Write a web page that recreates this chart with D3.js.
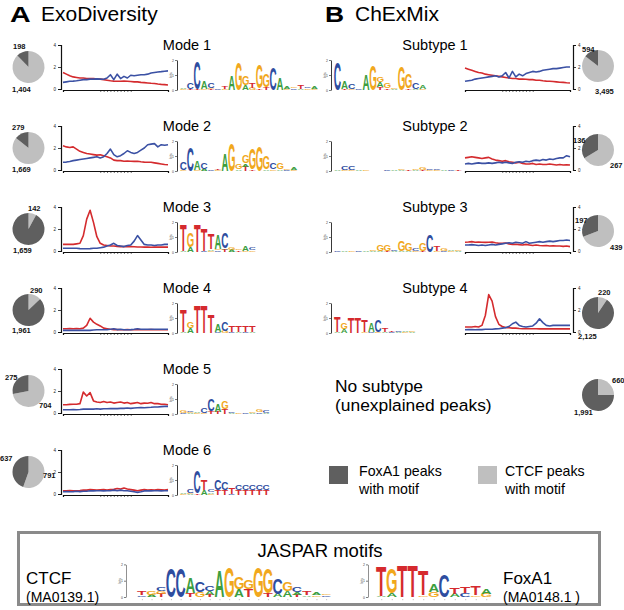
<!DOCTYPE html>
<html><head><meta charset="utf-8">
<script src="https://cdn.jsdelivr.net/npm/d3@7"></script>
<style>
body{margin:0;background:#fff}
svg{display:block}
text{font-family:'Liberation Sans',Arial,Helvetica,sans-serif}
</style>
</head><body>
<svg id="c" width="624" height="610"></svg>
<script>
// ---------------- DATA ----------------
const modeLabels = ["Mode 1","Mode 2","Mode 3","Mode 4","Mode 5","Mode 6"];
const subtypeLabels = ["Subtype 1","Subtype 2","Subtype 3","Subtype 4"];

// pie counts
const modeFoxA1 = [198, 279, 1659, 1961, 275, 637];
const modeCTCF  = [1404, 1669, 142, 290, 704, 791];
const subFoxA1  = [594, 136, 197, 2125, 1991];
const subCTCF   = [3495, 267, 439, 220, 660];

// tag-density profiles (red = FoxA1-like, blue = CTCF-like)
const modeRed = [
 [1.5,1.35,1.2,1.1,1.05,1.0,1.0,0.95,0.95,0.95,0.9,0.9,0.85,0.8,0.75,0.72,0.7,0.7,0.72,0.7,0.68,0.65,0.65,0.6,0.58,0.55,0.52,0.5,0.45,0.42,0.4,0.36],
 [2.2,2.1,2.05,2.1,1.9,1.7,1.6,1.5,1.45,1.4,1.35,1.38,1.3,1.2,1.1,0.9,0.85,0.85,0.8,0.82,0.8,0.78,0.8,0.75,0.72,0.7,0.7,0.65,0.6,0.55,0.5,0.48],
 [0.6,0.6,0.62,0.6,0.65,0.7,1.4,2.9,3.7,2.6,1.3,0.7,0.55,0.5,0.45,0.45,0.42,0.4,0.4,0.38,0.4,0.38,0.36,0.36,0.35,0.35,0.34,0.35,0.35,0.35,0.35,0.35],
 [0.3,0.3,0.32,0.3,0.32,0.3,0.35,0.6,1.25,0.9,0.7,0.55,0.35,0.3,0.25,0.22,0.22,0.2,0.2,0.22,0.2,0.2,0.22,0.2,0.2,0.2,0.22,0.2,0.2,0.2,0.2,0.2],
 [0.75,0.75,0.78,0.8,0.8,0.85,1.9,1.55,1.85,1.1,1.0,0.95,1.05,0.95,1.0,0.9,0.95,1.0,0.9,0.95,0.85,0.9,0.95,0.85,0.9,0.88,0.95,0.85,0.85,0.8,0.8,0.75],
 [0.3,0.3,0.32,0.3,0.3,0.32,0.35,0.35,0.4,0.38,0.35,0.38,0.4,0.35,0.4,0.42,0.5,0.45,0.55,0.45,0.4,0.35,0.3,0.35,0.4,0.35,0.38,0.35,0.4,0.38,0.35,0.4]
];
const modeBlue = [
 [0.6,0.65,0.7,0.72,0.75,0.8,0.85,0.85,0.9,0.9,0.92,0.9,0.88,1.0,1.3,0.85,1.35,0.95,1.15,1.0,1.25,1.2,1.25,1.3,1.3,1.35,1.45,1.5,1.55,1.58,1.62,1.65],
 [0.7,0.72,0.78,0.85,0.9,0.95,1.0,1.05,1.1,1.15,1.2,1.1,1.2,1.5,1.9,1.4,1.2,1.3,1.5,1.75,1.6,1.5,1.6,1.8,2.0,2.3,2.35,2.4,2.1,2.3,2.25,2.3],
 [0.25,0.25,0.25,0.25,0.25,0.22,0.2,0.2,0.22,0.25,0.25,0.3,0.35,0.45,0.55,0.7,0.5,0.45,0.4,0.5,0.55,0.9,1.4,1.0,0.6,0.55,0.55,0.5,0.55,0.55,0.6,0.6],
 [0.15,0.15,0.15,0.15,0.15,0.15,0.15,0.15,0.15,0.18,0.2,0.2,0.2,0.22,0.25,0.3,0.22,0.25,0.2,0.2,0.22,0.25,0.3,0.25,0.25,0.25,0.25,0.25,0.25,0.25,0.25,0.25],
 [0.3,0.3,0.3,0.32,0.3,0.32,0.35,0.35,0.35,0.35,0.38,0.35,0.38,0.38,0.4,0.4,0.4,0.42,0.42,0.45,0.42,0.45,0.48,0.5,0.48,0.5,0.52,0.55,0.55,0.58,0.6,0.6],
 [0.2,0.22,0.2,0.22,0.25,0.22,0.25,0.25,0.3,0.28,0.3,0.3,0.28,0.3,0.3,0.35,0.3,0.35,0.3,0.3,0.25,0.2,0.15,0.2,0.28,0.3,0.28,0.3,0.3,0.28,0.3,0.3]
];
const subRed = [
 [1.9,1.8,1.7,1.6,1.5,1.45,1.35,1.3,1.25,1.2,1.15,1.1,1.05,1.0,0.95,0.95,0.9,0.9,0.88,0.85,0.85,0.8,0.8,0.75,0.72,0.7,0.68,0.65,0.62,0.6,0.57,0.55],
 [1.1,1.15,1.2,1.15,1.1,1.05,1.1,1.15,1.0,0.9,0.85,0.8,0.85,0.75,0.7,0.65,0.7,0.6,0.55,0.55,0.6,0.5,0.55,0.5,0.5,0.55,0.5,0.45,0.5,0.45,0.48,0.45],
 [0.8,0.82,0.85,0.8,0.82,0.8,0.78,0.8,0.82,0.75,0.7,0.7,0.72,0.65,0.6,0.62,0.58,0.55,0.6,0.55,0.5,0.55,0.5,0.48,0.5,0.45,0.48,0.45,0.45,0.42,0.45,0.4],
 [0.45,0.45,0.45,0.5,0.45,0.6,1.5,3.4,2.8,1.4,0.7,0.5,0.4,0.38,0.35,0.35,0.32,0.3,0.32,0.3,0.3,0.3,0.28,0.3,0.28,0.28,0.28,0.28,0.28,0.28,0.28,0.28]
];
const subBlue = [
 [0.7,0.75,0.8,0.9,0.95,1.0,1.05,1.1,1.15,1.2,1.1,1.2,1.5,1.0,1.6,1.1,1.35,1.2,1.4,1.5,1.6,1.55,1.6,1.7,1.75,1.8,1.85,1.85,1.9,1.95,2.0,2.0],
 [0.55,0.6,0.55,0.6,0.65,0.6,0.6,0.65,0.6,0.65,0.7,0.65,0.7,0.65,0.6,0.7,0.75,0.7,0.8,0.75,0.85,0.9,0.85,0.95,0.9,1.0,0.95,1.05,1.1,1.1,1.3,1.2],
 [0.55,0.55,0.58,0.55,0.5,0.55,0.5,0.55,0.6,0.55,0.6,0.65,0.7,0.75,0.7,0.8,0.75,0.7,0.85,0.7,0.75,0.8,0.85,0.8,0.85,0.9,0.85,0.9,0.95,0.95,1.0,0.95],
 [0.2,0.22,0.22,0.2,0.22,0.22,0.25,0.25,0.25,0.28,0.3,0.35,0.4,0.5,0.75,0.9,0.6,0.5,0.45,0.5,0.55,0.8,1.2,0.85,0.6,0.55,0.6,0.6,0.6,0.6,0.6,0.6]
];

// sequence logos: each column lists [letter, bits, letter, bits ...] bottom to top
const logoMode1 = [["G",0.05,"A",0.06],["T",0.05,"C",0.4],["T",0.05,"C",1.8],["G",0.08,"A",0.5],["T",0.08,"G",0.08,"C",0.35],["C",0.1],["G",0.1,"T",0.12],["A",0.9],["G",1.8],["A",0.35,"G",0.6],["G",0.15,"T",0.3],["T",0.1,"G",1.55],["T",0.2,"G",0.9],["C",1.45],["A",0.8],["G",0.08,"A",0.12],["C",0.12,"G",0.1],["A",0.1,"T",0.25],["G",0.1,"C",0.1],["G",0.08,"A",0.15]];
const logoMode2 = [["G",0.05,"C",0.5],["C",1.6],["G",0.1,"A",0.6],["A",0.15,"C",0.45],["C",0.12],["G",0.1,"T",0.1],["A",1.1],["G",1.8],["A",0.1,"G",0.3],["T",0.3,"A",0.2,"G",0.55],["T",0.1,"G",1.4],["G",1.7],["A",0.1,"G",0.9],["G",0.1,"C",0.4],["A",0.1,"G",0.4],["C",0.08,"G",0.1],["G",0.1,"A",0.12]];
const logoMode3 = [["A",0.1,"T",1.75],["A",0.3,"G",1.0],["T",1.8],["C",0.06,"T",1.5],["G",0.1,"A",0.1,"T",1.05],["C",0.1,"G",0.1,"A",0.95],["T",0.15,"A",0.1,"C",1.05],["A",0.15,"G",0.2],["T",0.1,"G",0.1],["G",0.06,"A",0.3],["G",0.1,"C",0.15]];
const logoMode4 = [["A",0.06,"T",1.5],["A",0.35,"G",0.4],["T",1.8],["T",1.8],["T",1.2],["C",0.1,"A",0.55],["G",0.15,"C",0.6],["C",0.06,"T",0.45],["A",0.08,"T",0.4],["C",0.06,"T",0.4],["A",0.06,"T",0.4]];
const logoMode5 = [["C",0.08,"G",0.15],["A",0.06,"G",0.1,"C",0.12],["G",0.06,"A",0.08],["G",0.06,"C",0.3],["T",0.2,"C",0.8],["T",0.15,"A",0.5],["T",0.3,"G",0.55],["A",0.06,"C",0.06],["G",0.06],["C",0.06],["A",0.06,"G",0.1],["C",0.1,"G",0.15],["A",0.08,"C",0.15]];
const logoMode6 = [["G",0.06,"A",0.06],["A",0.06,"G",0.06,"C",0.25],["T",0.1,"C",1.5],["A",0.35,"T",0.65],["G",0.1,"A",0.1,"C",0.2],["T",0.3,"C",0.7],["T",0.3,"C",0.5],["C",0.06,"T",0.4],["T",0.3,"C",0.3],["T",0.3,"C",0.3],["T",0.3,"C",0.3],["T",0.3,"C",0.3],["T",0.3,"C",0.3]];
const logoSub1 = [["C",1.8],["T",0.1,"A",0.5],["G",0.06,"C",0.35],["C",0.1],["A",1.0],["G",1.7],["T",0.2,"A",0.3,"G",0.35],["T",0.1,"G",0.35],["A",0.06,"G",0.1],["G",1.55],["T",0.1,"G",0.95],["A",0.06,"C",0.4],["G",0.06,"A",0.25]];
const logoSub2 = [["A",0.06],["G",0.07,"C",0.25],["G",0.07,"C",0.25],["A",0.06],["G",0.06],[],[],["C",0.06],["A",0.06],["A",0.06,"G",0.12],["T",0.06],["A",0.06,"G",0.07],["T",0.06,"G",0.15],["G",0.06,"C",0.1],["G",0.06,"C",0.06],["A",0.06],["C",0.06],["T",0.07]];
const logoSub3 = [["C",0.1],["A",0.06],["G",0.06],["C",0.06],["A",0.06],["A",0.06,"G",0.1],["A",0.06,"G",0.45],["T",0.06,"G",0.45],["A",0.06,"C",0.08],["A",0.08,"G",0.65],["A",0.06,"G",0.5],["G",0.06,"C",0.2],["T",0.06,"G",0.5],["C",1.1],["G",0.06,"T",0.35],["C",0.06,"G",0.2],["G",0.06,"A",0.1],["A",0.06,"G",0.06]];
const logoSub4 = [["A",0.06,"T",1.05],["A",0.25,"G",0.45],["T",1.05],["T",1.05],["G",0.1,"T",0.75],["C",0.06,"A",0.6],["G",0.06,"C",0.75],["A",0.06,"T",0.25],["C",0.06,"T",0.1],["A",0.06,"C",0.06],["G",0.06,"A",0.1],["A",0.06,"G",0.08]];
const logoJasparCTCF = [["C",0.1,"T",0.2],["A",0.15,"G",0.2],["T",0.2,"G",0.15,"C",0.25],["C",1.75],["C",1.75],["T",0.25,"A",0.95],["G",0.3,"C",0.6],["T",0.15,"A",0.2,"C",0.3],["A",1.55],["G",1.85],["A",0.45,"G",0.75],["T",0.5,"G",0.55],["G",1.85],["T",0.2,"G",1.55],["A",0.2,"C",1.0],["A",0.35,"G",0.55],["T",0.15,"A",0.15,"C",0.3],["A",0.1,"T",0.2],["G",0.1,"A",0.15],["C",0.1,"G",0.1]];
const logoJasparFoxA1 = [["A",0.06,"T",1.85],["A",0.2,"G",1.5],["T",1.9],["T",1.9],["G",0.1,"T",1.5],["G",0.3,"A",0.45],["C",1.4],["A",0.2,"T",0.4],["C",0.25,"T",0.4],["G",0.1,"T",0.55],["G",0.2,"A",0.3]];

const modeLogos = [logoMode1, logoMode2, logoMode3, logoMode4, logoMode5, logoMode6];
const subLogos = [logoSub1, logoSub2, logoSub3, logoSub4];
const profileTicks = [0, 2, 4];

// ---------------- STYLE / LAYOUT ----------------
const RED = '#d42b2e', BLUE = '#3b51a4', DARK = '#5f5f5f', LIGHT = '#bfbfbf';
const LOGO_COL = {A:'#3d9e3f', C:'#2e4d9f', G:'#f1a81d', T:'#d52a2e'};
const ROW = 81;
// label offsets [foxA1 label dx,dy , ctcf label dx,dy] relative to pie centre
const modePieLab = [[-15.5,-18,-16.5,25],[-16.5,-18,-16.5,24],[-15.5,24,-0.5,-18],[-16.5,23,1.5,-17],[-23.5,-11,10.5,17],[-28.5,-11,14.5,6]];
const subPieLab = [[-16,-14,-3,28],[-25,-7,12,18],[-23,-8,12,19],[-20,26,0,-18],[-24,20,14,-12]];
const subPieY = [66, 150, 231, 313, 395];

const svg = d3.select('#c');
const fmt = d3.format(',');

// canvas metrics for exact glyph boxes
const ctx = document.createElement('canvas').getContext('2d');
const LOGO_FONT = "bold 100px 'Liberation Sans'";
ctx.font = LOGO_FONT;
const metCache = {};
function metric(L){
  if(!metCache[L]){ const m = ctx.measureText(L);
    metCache[L] = {l:m.actualBoundingBoxLeft, r:m.actualBoundingBoxRight, a:m.actualBoundingBoxAscent, d:m.actualBoundingBoxDescent}; }
  return metCache[L];
}
function letter(g, L, x, yb, w, h){
  if(h <= 0.5) return;
  const m = metric(L), gw = m.l + m.r, gh = m.a + m.d;
  g.append('text').text(L).attr('fill', LOGO_COL[L])
    .style('font', LOGO_FONT)
    .attr('transform', `translate(${x},${yb}) scale(${w/gw},${h/gh}) translate(${m.l},${-m.d})`);
}
function drawLogo(cols, x0, w, yb, ppb, axisX, big){
  const g = svg.append('g');
  const xs = d3.scaleLinear().domain([0, cols.length]).range([x0, x0 + cols.length*w]);
  const ys = d3.scaleLinear().domain([0, 2]).range([yb, yb - 2*ppb]);
  cols.forEach((col, i) => {
    let y = yb;
    for(let k = 0; k < col.length; k += 2){
      const h = ys(0) - ys(col[k+1]);
      letter(g, col[k], xs(i) + 0.2, y, w - 0.4, h);
      y -= h;
    }
  });
  const ax = g.append('g').attr('transform', `translate(${axisX},0)`)
    .call(d3.axisLeft(ys).tickValues([0,1,2]).tickSize(2).tickSizeOuter(0).tickFormat(d3.format('d')));
  ax.selectAll('text').style('font-size', '3.5px').attr('x', -3).attr('fill', '#444');
  ax.selectAll('line').attr('stroke', '#222').attr('stroke-width', 0.6);
  ax.select('.domain').attr('stroke', '#222').attr('stroke-width', big ? 0.5 : 0.9);
  g.append('text').text('bits').attr('transform', `translate(${axisX-5},${yb-ppb}) rotate(-90)`)
    .attr('text-anchor', 'middle').style('font-size', '3.5px').attr('fill', '#444');
  if(big){
    const bx = g.append('g').attr('transform', `translate(0,${yb+2})`)
      .call(d3.axisBottom(xs).tickValues(d3.range(cols.length).map(i => i + 0.5)).tickSize(1.2).tickFormat(''));
    bx.select('.domain').remove();
    bx.selectAll('line').attr('stroke', '#999').attr('stroke-width', 0.6);
  }
}
function drawProfile(red, blue, x0, x1, yTop, yBot, side){
  const g = svg.append('g');
  const x = d3.scaleLinear().domain([0, red.length - 1]).range([x0, x1]);
  const y = d3.scaleLinear().domain([0, 4]).range([yBot, yTop]);
  const line = d3.line().x((d, i) => x(i)).y(d => y(d));
  g.append('path').datum(red).attr('d', line).attr('fill', 'none').attr('stroke', RED).attr('stroke-width', 1.6).attr('stroke-linejoin', 'round');
  g.append('path').datum(blue).attr('d', line).attr('fill', 'none').attr('stroke', BLUE).attr('stroke-width', 1.6).attr('stroke-linejoin', 'round');
  const axisX = side === 'left' ? x0 - 2 : x1 + 3;
  const ya = (side === 'left' ? d3.axisLeft(y) : d3.axisRight(y)).tickValues(profileTicks).tickSize(3).tickSizeOuter(3).tickFormat(d3.format('d'));
  const ay = g.append('g').attr('transform', `translate(${axisX},0)`).call(ya);
  ay.select('.domain').attr('stroke', '#111').attr('stroke-width', 1.2);
  ay.selectAll('line').attr('stroke', '#111').attr('stroke-width', 0.8);
  ay.selectAll('text').style('font-size', '4.5px').attr('x', side === 'left' ? -5 : 5).attr('fill', '#222');
  const xa = d3.axisBottom(x).tickValues(d3.range(11, 21)).tickSize(2).tickSizeOuter(2).tickFormat('');
  const axg = g.append('g').attr('transform', `translate(0,${yBot + 1})`).call(xa);
  axg.select('.domain').attr('stroke', '#111').attr('stroke-width', 1.2);
  axg.selectAll('line').attr('stroke', '#111').attr('stroke-width', 0.6);
}
function drawPie(cx, cy, fox, ctcf, lab){
  const g = svg.append('g').attr('transform', `translate(${cx},${cy})`);
  const pie = d3.pie().sort(null).value(d => d.v);
  const arc = d3.arc().innerRadius(0).outerRadius(16);
  g.selectAll('path').data(pie([{k:'ctcf', v:ctcf}, {k:'fox', v:fox}])).enter().append('path')
    .attr('d', arc).attr('fill', d => d.data.k === 'fox' ? DARK : LIGHT);
  g.append('text').text(fmt(fox)).attr('x', lab[0]).attr('y', lab[1]).style('font-size', '7.5px').style('font-weight', 'bold').attr('fill', '#111');
  g.append('text').text(fmt(ctcf)).attr('x', lab[2]).attr('y', lab[3]).style('font-size', '7.5px').style('font-weight', 'bold').attr('fill', '#111');
}

// ---------------- TITLES ----------------
svg.append('text').text('A').attr('transform', 'translate(10,22) scale(1.3,1)').style('font-size', '22px').style('font-weight', 'bold');
svg.append('text').text('ExoDiversity').attr('x', 41).attr('y', 21).style('font-size', '21px');
svg.append('text').text('B').attr('transform', 'translate(325,22) scale(1.2,1)').style('font-size', '22px').style('font-weight', 'bold');
svg.append('text').text('ChExMix').attr('x', 355).attr('y', 21).style('font-size', '21px');

// ---------------- PANEL A ----------------
modeLabels.forEach((lab, i) => {
  const oy = i * ROW;
  svg.append('text').text(lab).attr('x', 187).attr('y', 50 + oy).attr('text-anchor', 'middle').style('font-size', '14.5px');
  drawPie(28.5, 67 + oy, modeFoxA1[i], modeCTCF[i], modePieLab[i]);
  drawProfile(modeRed[i], modeBlue[i], 63, 168, 45 + oy, 89 + oy, 'left');
  drawLogo(modeLogos[i], 180, 6.9, 90 + oy, 15, 177, false);
});

// ---------------- PANEL B ----------------
subtypeLabels.forEach((lab, i) => {
  const oy = i * ROW;
  svg.append('text').text(lab).attr('x', 435).attr('y', 50 + oy).attr('text-anchor', 'middle').style('font-size', '14.5px');
  drawLogo(subLogos[i], 334, i === 3 ? 6.8 : 7.1, 90 + oy, 15, 331, false);
  drawProfile(subRed[i], subBlue[i], 465, 570, 45 + oy, 89 + oy, 'right');
  drawPie(598, subPieY[i], subFoxA1[i], subCTCF[i], subPieLab[i]);
});
svg.append('text').text('No subtype').attr('x', 335).attr('y', 392).style('font-size', '17.4px');
svg.append('text').text('(unexplained peaks)').attr('x', 335).attr('y', 411).style('font-size', '17.4px');
drawPie(598, subPieY[4], subFoxA1[4], subCTCF[4], subPieLab[4]);

// legend
svg.append('rect').attr('x', 329).attr('y', 466).attr('width', 19).attr('height', 18).attr('fill', DARK);
svg.append('text').text('FoxA1 peaks').attr('x', 359).attr('y', 476).style('font-size', '14.2px');
svg.append('text').text('with motif').attr('x', 359).attr('y', 494).style('font-size', '14.2px');
svg.append('rect').attr('x', 478).attr('y', 466).attr('width', 19).attr('height', 18).attr('fill', LIGHT);
svg.append('text').text('CTCF peaks').attr('x', 505).attr('y', 476).style('font-size', '14.2px');
svg.append('text').text('with motif').attr('x', 505).attr('y', 494).style('font-size', '14.2px');

// ---------------- JASPAR BOX ----------------
svg.append('rect').attr('x', 18.5).attr('y', 532.5).attr('width', 581).attr('height', 72).attr('fill', 'none').attr('stroke', '#8a8a8a').attr('stroke-width', 3);
svg.append('text').text('JASPAR motifs').attr('x', 320).attr('y', 557).attr('text-anchor', 'middle').style('font-size', '18.5px');
svg.append('text').text('CTCF').attr('x', 26).attr('y', 584).style('font-size', '17px');
svg.append('text').text('(MA0139.1)').attr('x', 26).attr('y', 602).style('font-size', '14px');
svg.append('text').text('FoxA1').attr('x', 503).attr('y', 584).style('font-size', '17px');
svg.append('text').text('(MA0148.1 )').attr('x', 503).attr('y', 602).style('font-size', '14px');
drawLogo(logoJasparCTCF, 137, 9.7, 597, 16.3, 126, true);
drawLogo(logoJasparFoxA1, 376, 10.5, 597, 16.3, 368, true);
</script>
</body></html>
